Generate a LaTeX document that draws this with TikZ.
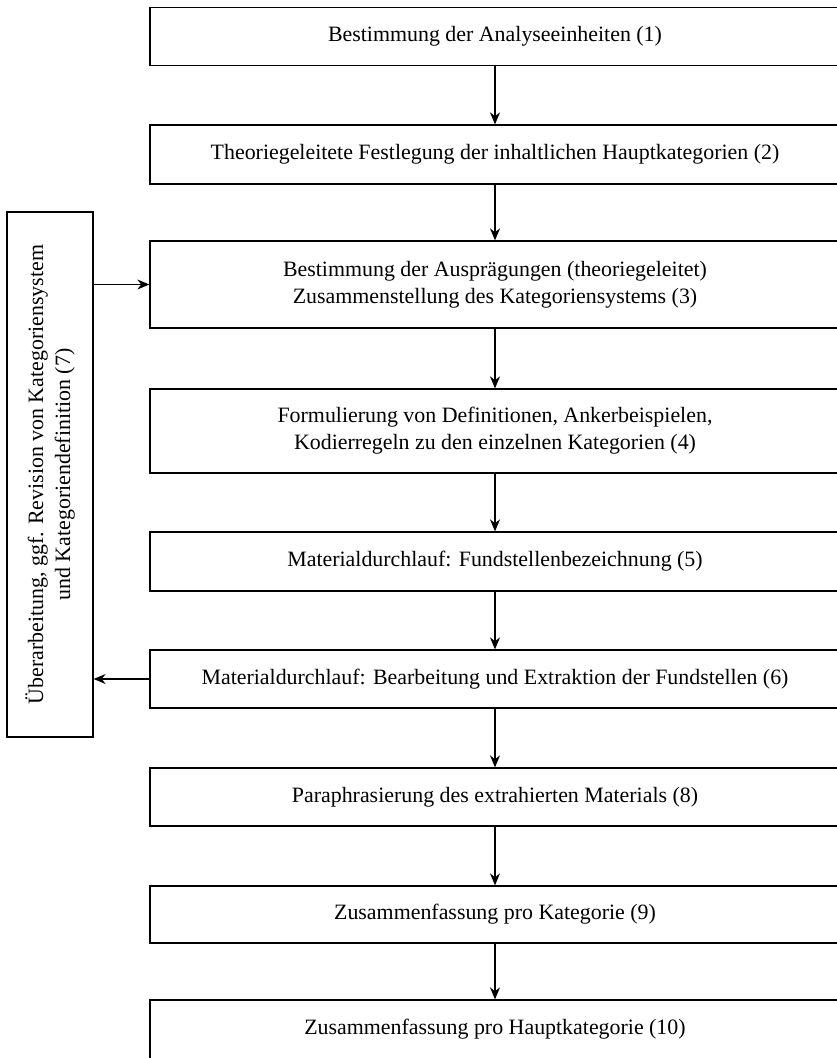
\documentclass[tikz,border=0pt]{standalone}
\usepackage{fontspec}
\setmainfont{Liberation Serif}
\usepackage{tikz}
\usetikzlibrary{arrows.meta}

\begin{document}
\begin{tikzpicture}[x=1pt,y=-1pt,
    stepbox/.style={draw, line width=1.3pt, minimum width=690pt, anchor=center, align=center, inner sep=0pt},
    flow/.style={-{Stealth[length=12pt,width=10pt]}, line width=1.2pt},
    font=\fontsize{21.9}{27}\selectfont]
    \useasboundingbox (0,0) rectangle (837,1058);
    \clip (0,0) rectangle (837,1058);
    \node[stepbox, minimum height=58pt] (s1) at (495,36.5) {Bestimmung der Analyseeinheiten (1)};
    \node[stepbox, minimum height=59pt] (s2) at (495,154.5) {Theoriegeleitete Festlegung der inhaltlichen Hauptkategorien (2)};
    \node[stepbox, minimum height=87pt] (s3) at (495,284.5) {Bestimmung der Ausprägungen (theoriegeleitet)\\Zusammenstellung des Kategoriensystems (3)};
    \node[stepbox, minimum height=84pt] (s4) at (495,431) {Formulierung von Definitionen, Ankerbeispielen,\\Kodierregeln zu den einzelnen Kategorien (4)};
    \node[stepbox, minimum height=59pt] (s5) at (495,561.5) {Materialdurchlauf: Fundstellenbezeichnung (5)};
    \node[stepbox, minimum height=58pt] (s6) at (495,679) {Materialdurchlauf: Bearbeitung und Extraktion der Fundstellen (6)};
    \node[stepbox, minimum height=58pt] (s8) at (495,797) {Paraphrasierung des extrahierten Materials (8)};
    \node[stepbox, minimum height=57pt] (s9) at (495,914.5) {Zusammenfassung pro Kategorie (9)};
    \node[stepbox, minimum height=59pt] (s10) at (495,1029.5) {Zusammenfassung pro Hauptkategorie (10)};
    \node[draw, line width=1.3pt, rotate=90, minimum width=525pt, minimum height=86pt, align=center, inner sep=0pt] (rev) at (50,474.5)
        {Überarbeitung, ggf. Revision von Kategoriensystem\\und Kategoriendefinition (7)};
    \foreach \a/\b in {s1/s2, s2/s3, s3/s4, s4/s5, s5/s6, s6/s8, s8/s9, s9/s10}
        \draw[flow] (\a) -- (\b);
    \draw[flow] (rev.south |- s3) -- (s3.west);
    \draw[flow] (s6.west) -- (rev.south |- s6);
\end{tikzpicture}
\end{document}
